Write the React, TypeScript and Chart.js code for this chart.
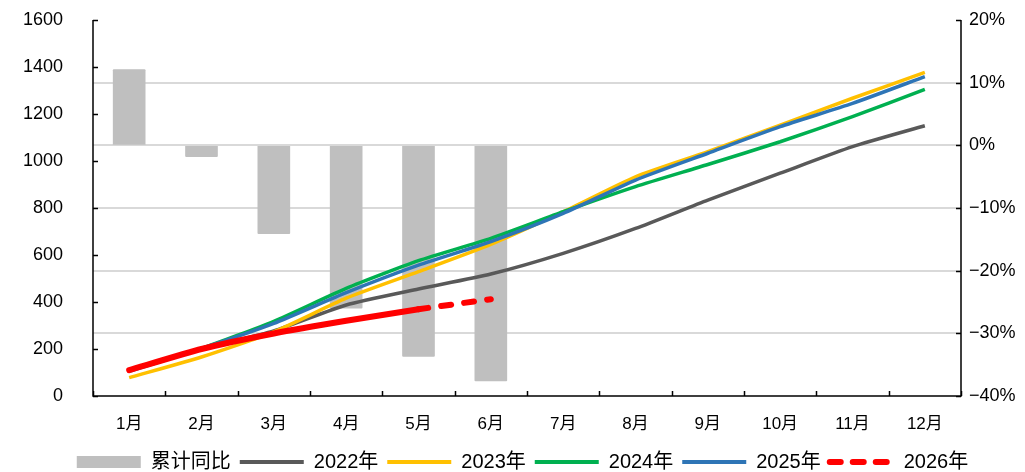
import React, { useEffect, useRef } from "react";
import { Chart, registerables } from "chart.js";

Chart.register(...registerables);

const months = ["1月", "2月", "3月", "4月", "5月", "6月", "7月", "8月", "9月", "10月", "11月", "12月"];
const cumulativeYoY = [12.1, -1.8, -14.1, -26.0, -33.7, -37.6];
const y2022 = [108, 200, 277, 387, 455, 519, 607, 713, 834, 948, 1061, 1150];
const y2023 = [78, 166, 273, 416, 529, 645, 784, 933, 1040, 1153, 1267, 1377];
const y2024 = [108, 202, 318, 458, 576, 671, 784, 891, 985, 1082, 1189, 1305];
const y2025 = [105, 202, 309, 440, 557, 657, 777, 919, 1033, 1146, 1245, 1359];
const y2026 = [110, 200, 266, 320, 369, 412];

const leftMin = 0;
const leftMax = 1600;
const leftStep = 200;
const rightMin = -40;
const rightMax = 20;
const rightStep = 10;

const FONT = "'Liberation Sans', 'Noto Sans CJK SC', sans-serif";
const BAR_COLOR = "#bfbfbf";
const RED_DASH = [10, 13];

const axisFramePlugin = {
  id: "axisFrame",
  afterLayout(chart: any) {
    const lg = chart.legend;
    if (lg) {
      lg.top += 10;
      lg.bottom += 10;
      lg.left += 10;
      lg.right += 10;
    }
  },
  afterDatasetsDraw(chart: any) {
    const { ctx, chartArea, scales } = chart;
    const { left, right, top, bottom } = chartArea;
    ctx.save();
    ctx.strokeStyle = "#000";
    ctx.lineWidth = 1.5;
    ctx.beginPath();
    ctx.moveTo(left, top);
    ctx.lineTo(left, bottom);
    ctx.lineTo(right, bottom);
    ctx.lineTo(right, top);
    const tl = 5;
    scales.y.ticks.forEach((t: any) => {
      const py = Math.round(scales.y.getPixelForValue(t.value)) + 0.5;
      ctx.moveTo(left, py);
      ctx.lineTo(left + tl, py);
    });
    scales.y1.ticks.forEach((t: any) => {
      const py = Math.round(scales.y1.getPixelForValue(t.value)) + 0.5;
      ctx.moveTo(right, py);
      ctx.lineTo(right - tl, py);
    });
    for (let i = 0; i <= months.length; i++) {
      const px = Math.round(scales.x.getPixelForValue(i - 0.5)) + 0.5;
      ctx.moveTo(px, bottom);
      ctx.lineTo(px, bottom - tl);
    }
    ctx.stroke();
    ctx.restore();
  },
};

export default function App() {
  const ref = useRef<HTMLCanvasElement>(null);

  useEffect(() => {
    const lineColors = ["#595959", "#ffc000", "#00b050", "#2e75b6", "#ff0000"];
    const chart = new Chart(ref.current as HTMLCanvasElement, {
      data: {
        labels: months,
        datasets: [
          {
            type: "bar",
            label: "累计同比",
            data: cumulativeYoY,
            yAxisID: "y1",
            backgroundColor: BAR_COLOR,
            barThickness: 32,
            borderRadius: 1,
            order: 10,
          } as any,
          {
            type: "line",
            label: "2022年",
            data: y2022,
            yAxisID: "y",
            borderColor: lineColors[0],
            borderWidth: 3.5,
            pointRadius: 0,
            tension: 0.2,
            order: 5,
          },
          {
            type: "line",
            label: "2023年",
            data: y2023,
            yAxisID: "y",
            borderColor: lineColors[1],
            borderWidth: 3.5,
            pointRadius: 0,
            tension: 0.2,
            order: 4,
          },
          {
            type: "line",
            label: "2024年",
            data: y2024,
            yAxisID: "y",
            borderColor: lineColors[2],
            borderWidth: 3.5,
            pointRadius: 0,
            tension: 0.2,
            order: 3,
          },
          {
            type: "line",
            label: "2025年",
            data: y2025,
            yAxisID: "y",
            borderColor: lineColors[3],
            borderWidth: 3.5,
            pointRadius: 0,
            tension: 0.2,
            order: 2,
          },
          {
            type: "line",
            label: "2026年",
            data: y2026,
            yAxisID: "y",
            borderColor: lineColors[4],
            borderWidth: 6,
            borderCapStyle: "round",
            borderJoinStyle: "round",
            pointRadius: 0,
            tension: 0.2,
            order: 1,
            segment: {
              borderDash: (c: any) => (c.p0DataIndex >= 4 ? RED_DASH : undefined),
            },
          } as any,
        ],
      },
      options: {
        responsive: false,
        animation: false,
        events: [],
        layout: { padding: { left: 0, right: 0, top: 20, bottom: 0 } },
        scales: {
          x: {
            type: "category",
            offset: true,
            grid: { display: false, drawTicks: false },
            border: { display: false },
            ticks: { color: "#000", font: { family: FONT, size: 17 }, padding: 18, maxRotation: 0, autoSkip: false },
            afterFit: (s: any) => {
              s.height = 37;
            },
          },
          y: {
            type: "linear",
            position: "left",
            min: leftMin,
            max: leftMax,
            grid: { display: false, drawTicks: false },
            border: { display: false },
            ticks: {
              stepSize: leftStep,
              color: "#000",
              font: { family: FONT, size: 18 },
              padding: 30,
              callback: (v: any) => String(v),
            },
            afterFit: (s: any) => {
              s.width = 93;
              s.paddingTop = 0;
              s.paddingBottom = 0;
            },
          },
          y1: {
            type: "linear",
            position: "right",
            min: rightMin,
            max: rightMax,
            grid: {
              display: true,
              drawTicks: false,
              lineWidth: 2,
              color: (c: any) =>
                c.tick && (c.tick.value === rightMax || c.tick.value === rightMin) ? "rgba(0,0,0,0)" : "#d9d9d9",
            },
            border: { display: false },
            ticks: {
              stepSize: rightStep,
              color: "#000",
              font: { family: FONT, size: 18 },
              padding: 8,
              callback: (v: any) => (v < 0 ? "\u2212" + Math.abs(v) : String(v)) + "%",
            },
            afterFit: (s: any) => {
              s.width = 64;
              s.paddingTop = 0;
              s.paddingBottom = 0;
            },
          },
        },
        plugins: {
          tooltip: { enabled: false },
          legend: {
            display: true,
            position: "bottom",
            labels: {
              usePointStyle: true,
              pointStyleWidth: 64,
              boxWidth: 64,
              boxHeight: 12,
              padding: 9,
              color: "#000",
              font: { family: FONT, size: 20 },
              generateLabels: (ch: any) =>
                ch.data.datasets.map((ds: any, i: number) => {
                  const isBar = ds.type === "bar";
                  const isRed = i === ch.data.datasets.length - 1;
                  return {
                    text: ds.label,
                    datasetIndex: i,
                    hidden: false,
                    fillStyle: isBar ? BAR_COLOR : ds.borderColor,
                    strokeStyle: isBar ? BAR_COLOR : ds.borderColor,
                    lineWidth: isBar ? 0 : isRed ? 6 : 4,
                    lineDash: isRed ? [11, 12] : [],
                    lineCap: isRed ? "round" : "butt",
                    pointStyle: isBar ? "rect" : "line",
                    fontColor: "#000",
                  };
                }),
            },
          },
        },
      },
      plugins: [axisFramePlugin],
    } as any);
    return () => chart.destroy();
  }, []);

  return (
    <div style={{ position: "fixed", left: 0, top: 0, width: 1025, height: 472, background: "#fff" }}>
      <canvas ref={ref} width={1025} height={472} style={{ display: "block" }} />
    </div>
  );
}
